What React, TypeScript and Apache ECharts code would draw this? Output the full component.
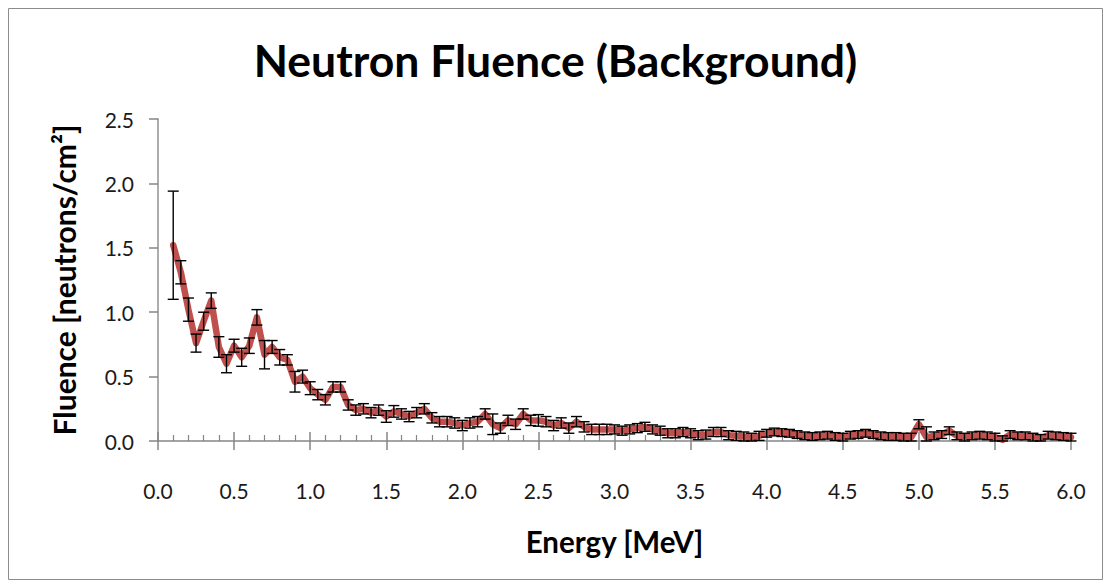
import React, { useEffect, useRef } from "react";
import * as echarts from "echarts";

const energies = [
  0.1, 0.15, 0.2, 0.25, 0.3, 0.35, 0.4, 0.45, 0.5, 0.55,
  0.6, 0.65, 0.7, 0.75, 0.8, 0.85, 0.9, 0.95, 1.0, 1.05,
  1.1, 1.15, 1.2, 1.25, 1.3, 1.35, 1.4, 1.45, 1.5, 1.55,
  1.6, 1.65, 1.7, 1.75, 1.8, 1.85, 1.9, 1.95, 2.0, 2.05,
  2.1, 2.15, 2.2, 2.25, 2.3, 2.35, 2.4, 2.45, 2.5, 2.55,
  2.6, 2.65, 2.7, 2.75, 2.8, 2.85, 2.9, 2.95, 3.0, 3.05,
  3.1, 3.15, 3.2, 3.25, 3.3, 3.35, 3.4, 3.45, 3.5, 3.55,
  3.6, 3.65, 3.7, 3.75, 3.8, 3.85, 3.9, 3.95, 4.0, 4.05,
  4.1, 4.15, 4.2, 4.25, 4.3, 4.35, 4.4, 4.45, 4.5, 4.55,
  4.6, 4.65, 4.7, 4.75, 4.8, 4.85, 4.9, 4.95, 5.0, 5.05,
  5.1, 5.15, 5.2, 5.25, 5.3, 5.35, 5.4, 5.45, 5.5, 5.55,
  5.6, 5.65, 5.7, 5.75, 5.8, 5.85, 5.9, 5.95, 6.0,
];

const fluence = [
  1.52, 1.31, 1.02, 0.76, 0.93, 1.09, 0.73, 0.6, 0.74, 0.65,
  0.74, 0.96, 0.67, 0.73, 0.65, 0.63, 0.46, 0.5, 0.41, 0.36,
  0.32, 0.42, 0.42, 0.28, 0.24, 0.25, 0.22, 0.24, 0.19, 0.23,
  0.21, 0.19, 0.22, 0.25, 0.18, 0.15, 0.15, 0.14, 0.12, 0.14,
  0.15, 0.21, 0.13, 0.1, 0.16, 0.13, 0.21, 0.16, 0.16, 0.15,
  0.12, 0.14, 0.1, 0.15, 0.11, 0.09, 0.09, 0.09, 0.09, 0.08,
  0.09, 0.1, 0.11, 0.09, 0.08, 0.06, 0.06, 0.07, 0.06, 0.045,
  0.05, 0.07, 0.07, 0.045, 0.04, 0.035, 0.025, 0.04, 0.06, 0.07,
  0.065, 0.06, 0.05, 0.04, 0.035, 0.04, 0.045, 0.035, 0.03, 0.045,
  0.05, 0.06, 0.05, 0.04, 0.035, 0.035, 0.03, 0.03, 0.13, 0.03,
  0.04, 0.05, 0.08, 0.04, 0.03, 0.04, 0.045, 0.04, 0.03, 0.01,
  0.05, 0.04, 0.04, 0.03, 0.02, 0.045, 0.04, 0.035, 0.03,
];

const errors = [
  0.42, 0.09, 0.09, 0.07, 0.07, 0.06, 0.08, 0.07, 0.05, 0.07,
  0.06, 0.06, 0.11, 0.05, 0.06, 0.04, 0.08, 0.05, 0.05, 0.04,
  0.04, 0.04, 0.04, 0.04, 0.04, 0.04, 0.04, 0.04, 0.045, 0.045,
  0.04, 0.04, 0.04, 0.04, 0.04, 0.04, 0.04, 0.04, 0.04, 0.04,
  0.04, 0.04, 0.08, 0.04, 0.04, 0.04, 0.04, 0.04, 0.045, 0.04,
  0.04, 0.04, 0.04, 0.04, 0.04, 0.04, 0.04, 0.04, 0.035, 0.035,
  0.035, 0.035, 0.035, 0.035, 0.035, 0.035, 0.035, 0.035, 0.035, 0.035,
  0.035, 0.035, 0.035, 0.035, 0.035, 0.035, 0.035, 0.035, 0.03, 0.03,
  0.03, 0.03, 0.03, 0.03, 0.03, 0.03, 0.03, 0.03, 0.03, 0.03,
  0.03, 0.03, 0.03, 0.03, 0.03, 0.03, 0.03, 0.03, 0.035, 0.08,
  0.03, 0.03, 0.03, 0.03, 0.03, 0.03, 0.03, 0.03, 0.03, 0.03,
  0.03, 0.03, 0.03, 0.03, 0.03, 0.03, 0.03, 0.03, 0.03,
];

const titleText = "Neutron Fluence (Background)";
const xTitle = "Energy [MeV]";
const yTitle = "Fluence [neutrons/cm²]";

const FONT = "Lato, 'Noto Sans', sans-serif";
const AXIS_GRAY = "#868686";

export default function App() {
  const ref = useRef<HTMLDivElement>(null);

  useEffect(() => {
    if (!ref.current) return;
    const chart = echarts.init(ref.current, undefined, { renderer: "svg" });

    const lineData = energies.map((e, i) => [e, fluence[i]]);
    const errData = energies.map((e, i) => [e, fluence[i], errors[i]]);

    chart.setOption({
      animation: false,
      backgroundColor: "#ffffff",
      textStyle: { fontFamily: FONT },
      title: {
        text: titleText,
        left: "center",
        top: 32,
        textStyle: { fontFamily: FONT, fontSize: 44.5, fontWeight: "bold", color: "#000" },
      },
      graphic: [
        {
          type: "rect",
          shape: { x: 8.5, y: 8.5, width: 1094, height: 571 },
          style: { fill: "none", stroke: "#8c8c8c", lineWidth: 1 },
          silent: true,
        },
      ],
      grid: { left: 158, right: 40, top: 119, bottom: 147, containLabel: false },
      xAxis: [
        {
          type: "value",
          min: 0,
          max: 6,
          interval: 0.5,
          position: "bottom",
          name: xTitle,
          nameLocation: "middle",
          nameGap: 85,
          nameTextStyle: { fontFamily: FONT, fontSize: 29.5, fontWeight: "bold", color: "#000" },
          axisLine: { show: true, onZero: false, lineStyle: { color: AXIS_GRAY, width: 1.5 } },
          axisTick: { show: true, inside: false, length: 9, lineStyle: { color: AXIS_GRAY, width: 1.5 } },
          axisLabel: {
            show: true,
            margin: 39,
            fontFamily: FONT,
            fontSize: 21,
            color: "#1a1a1a",
            formatter: (v: number) => v.toFixed(1),
          },
          splitLine: { show: false },
        },
        {
          type: "value",
          min: 0,
          max: 6,
          interval: 0.5,
          position: "bottom",
          axisLine: { show: false },
          axisTick: { show: true, inside: true, length: 9, lineStyle: { color: AXIS_GRAY, width: 1.5 } },
          minorTick: { show: true, splitNumber: 5, length: 6, lineStyle: { color: AXIS_GRAY, width: 1.2 } },
          axisLabel: { show: false },
          splitLine: { show: false },
        },
      ],
      yAxis: [
        {
          type: "value",
          min: 0,
          max: 2.5,
          interval: 0.5,
          position: "left",
          name: yTitle,
          nameLocation: "middle",
          nameGap: 79,
          nameRotate: 90,
          nameTextStyle: { fontFamily: FONT, fontSize: 30, fontWeight: "bold", color: "#000" },
          axisLine: { show: true, lineStyle: { color: AXIS_GRAY, width: 1.5 } },
          axisTick: { show: true, inside: false, length: 9, lineStyle: { color: AXIS_GRAY, width: 1.5 } },
          axisLabel: {
            margin: 24,
            fontFamily: FONT,
            fontSize: 21,
            color: "#1a1a1a",
            formatter: (v: number) => v.toFixed(1),
          },
          splitLine: { show: false },
        },
        {
          type: "value",
          min: 0,
          max: 2.5,
          interval: 0.5,
          position: "right",
          axisLine: { show: true, lineStyle: { color: "#b0b0b0", width: 1.5 } },
          axisTick: { show: false },
          axisLabel: { show: false },
          splitLine: { show: false },
        },
      ],
      series: [
        {
          type: "line",
          xAxisIndex: 0,
          yAxisIndex: 0,
          data: lineData,
          symbol: "none",
          lineStyle: { color: "#C0504D", width: 6.5, join: "round", cap: "round" },
          z: 2,
        },
        {
          type: "custom",
          xAxisIndex: 0,
          yAxisIndex: 0,
          data: errData,
          z: 3,
          renderItem: (params: any, api: any) => {
            const x = api.value(0);
            const y = api.value(1);
            const e = api.value(2);
            const top = api.coord([x, y + e]);
            const bot = api.coord([x, Math.max(0, y - e)]);
            const w = 5.5;
            const st = { stroke: "#000", lineWidth: 1.4 };
            return {
              type: "group",
              children: [
                { type: "line", shape: { x1: top[0], y1: top[1], x2: bot[0], y2: bot[1] }, style: st },
                { type: "line", shape: { x1: top[0] - w, y1: top[1], x2: top[0] + w, y2: top[1] }, style: st },
                { type: "line", shape: { x1: bot[0] - w, y1: bot[1], x2: bot[0] + w, y2: bot[1] }, style: st },
              ],
            };
          },
        },
      ],
    });

    return () => {
      chart.dispose();
    };
  }, []);

  return (
    <div
      ref={ref}
      style={{ position: "absolute", left: 0, top: 0, width: 1111, height: 588 }}
    />
  );
}
